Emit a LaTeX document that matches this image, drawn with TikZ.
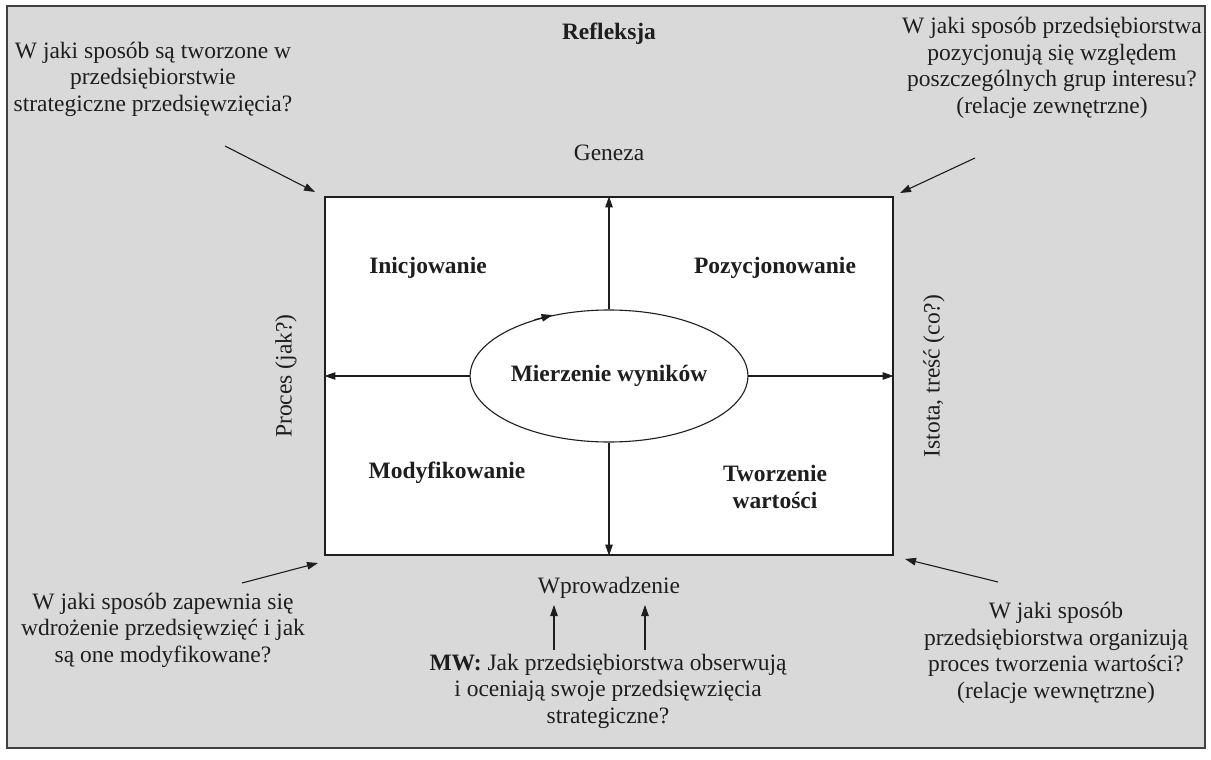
\documentclass[tikz,border=0pt]{standalone}
\usepackage{fontspec}
\setmainfont{Liberation Serif}
\usetikzlibrary{arrows.meta,shapes.geometric}
\definecolor{panel}{HTML}{D9D9D9}
\definecolor{ink}{HTML}{1E1E1E}
\definecolor{frameline}{HTML}{404040}
\begin{document}
\begin{tikzpicture}[x=1pt,y=-1pt,
  every node/.style={font=\fontsize{23.5}{26.5}\selectfont, text=ink, inner sep=0pt, align=center},
  lbl/.style={font=\fontsize{23.5}{26.5}\selectfont\bfseries},
  arr/.style={draw=ink, line width=1.1pt, -{Triangle[length=11pt,width=7.5pt]}},
]
\useasboundingbox (0,0) rectangle (1211,760);

% background panel
\draw[fill=panel, draw=frameline, line width=1.8pt] (7,6) rectangle (1205,748);

% central white field
\node[draw=ink, fill=white, line width=1.1pt, minimum width=568pt, minimum height=358pt] (box) at (609,376) {};

% the measurement ellipse
\node[ellipse, draw=ink, line width=1.1pt, minimum width=273pt, minimum height=132pt, font=\fontsize{23.5}{26.5}\selectfont\bfseries] (mw) at (609,376) {Mierzenie wyników};
\draw[arr, shorten >=-2pt] (mw.143) -- (mw.134);

% axes leaving the ellipse
\draw[arr] (mw.north) -- (box.north);
\draw[arr] (mw.south) -- (box.south);
\draw[arr] (mw.west) -- (box.west);
\draw[arr] (mw.east) -- (box.east);

% quadrant labels
\node[lbl] (ini) at (428,268) {Inicjowanie};
\node[lbl] (poz) at (775,268) {Pozycjonowanie};
\node[lbl] (mod) at (447,473) {Modyfikowanie};
\node[lbl] (two) at (775,487) {Tworzenie\\wartości};

% axis captions
\node[lbl] (ref) at (609,34) {Refleksja};
\node (gen) at (609,153) {Geneza};
\node (wpr) at (609,588) {Wprowadzenie};
\node[rotate=90] (pro) at (286,376) {Proces (jak?)};
\node[rotate=90] (ist) at (934,376) {Istota, treść (co?)};

% corner questions
\node (qtl) at (153,79) {W jaki sposób są tworzone w\\przedsiębiorstwie\\strategiczne przedsięwzięcia?};
\node (qtr) at (1052,68) {W jaki sposób przedsiębiorstwa\\pozycjonują się względem\\poszczególnych grup interesu?\\(relacje zewnętrzne)};
\node (qbl) at (163,630) {W jaki sposób zapewnia się\\wdrożenie przedsięwzięć i jak\\są one modyfikowane?};
\node (qbr) at (1056,653) {W jaki sposób\\przedsiębiorstwa organizują\\proces tworzenia wartości?\\(relacje wewnętrzne)};
\node (qmw) at (608,691) {\textbf{MW:} Jak przedsiębiorstwa obserwują\\i oceniają swoje przedsięwzięcia\\strategiczne?};

% arrows from the questions towards the field
\coordinate (tlA) at (225,146);
\coordinate (tlB) at (315,192);
\coordinate (trA) at (975,158);
\coordinate (trB) at (900,193);
\coordinate (blA) at (242,583);
\coordinate (blB) at (318,563);
\coordinate (brA) at (998,582);
\coordinate (brB) at (905,559);
\draw[arr] (tlA) -- (tlB);
\draw[arr] (trA) -- (trB);
\draw[arr] (blA) -- (blB);
\draw[arr] (brA) -- (brB);

% arrows from the MW question up to "Wprowadzenie"
\coordinate (u1) at (554,650);
\coordinate (u2) at (645,650);
\draw[arr] (u1) -- (u1 |- 0,605);
\draw[arr] (u2) -- (u2 |- 0,605);
\end{tikzpicture}
\end{document}
